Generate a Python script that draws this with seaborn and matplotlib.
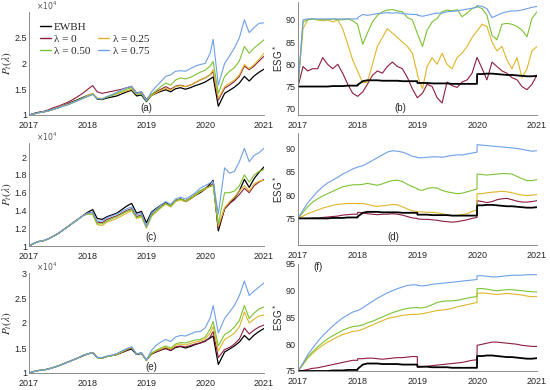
import pandas as pd
import matplotlib.pyplot as plt
from matplotlib.lines import Line2D
import seaborn as sns

sns.set_theme(style='white')
plt.rcParams['font.family'] = ['Liberation Sans', 'DejaVu Sans']

# 날짜 축 (가격: 월초 + 2020 폭락 구간, ESG: 월초 + 연말)
dates_p = pd.to_datetime([f'{y}-{m:02d}-01' for y in (2017, 2018, 2019) for m in range(1, 13)]
                         + ['2020-01-01', '2020-02-01', '2020-02-20', '2020-03-23']
                         + [f'2020-{m:02d}-01' for m in range(5, 13)] + ['2021-01-01'])
dates_e = pd.to_datetime([d for y in (2017, 2018, 2019)
                          for d in [f'{y}-{m:02d}-01' for m in range(1, 13)] + [f'{y}-12-31']]
                         + [f'2020-{m:02d}-01' for m in range(1, 13)] + ['2021-01-01'])

labels = ['EWBH', 'λ = 0', 'λ = 0.25', 'λ = 0.50', 'λ = 0.75']
colors = ['black', '#8C1D3C', '#E0B52A', '#7DC234', '#6E9FE8']
years = [2017, 2018, 2019, 2020, 2021]

# 포트폴리오 가치 (x10^4)
price_ewbh = [1.00, 1.03, 1.05, 1.06, 1.08, 1.11, 1.14, 1.18, 1.22, 1.26, 1.30, 1.34,
              1.38, 1.41, 1.31, 1.30, 1.33, 1.35, 1.37, 1.41, 1.45, 1.48, 1.37, 1.39,
              1.26, 1.38, 1.42, 1.46, 1.49, 1.45, 1.51, 1.53, 1.50, 1.53, 1.57, 1.60,
              1.64, 1.70, 1.74, 1.17, 1.42, 1.48, 1.54, 1.62, 1.75, 1.66, 1.76, 1.83,
              1.89]

price_a = {
    'λ = 0': [1.00, 1.02, 1.05, 1.07, 1.10, 1.14, 1.17, 1.21, 1.25, 1.30, 1.36, 1.42,
              1.50, 1.57, 1.45, 1.42, 1.44, 1.46, 1.48, 1.50, 1.53, 1.55, 1.43, 1.45,
              1.30, 1.40, 1.45, 1.50, 1.55, 1.50, 1.56, 1.58, 1.55, 1.58, 1.63, 1.68,
              1.72, 1.78, 1.84, 1.29, 1.52, 1.58, 1.65, 1.75, 1.95, 1.88, 1.95, 2.05,
              2.14],
    'λ = 0.25': [1.00, 1.02, 1.04, 1.06, 1.08, 1.11, 1.14, 1.18, 1.21, 1.25, 1.29, 1.33,
                 1.38, 1.42, 1.33, 1.32, 1.35, 1.38, 1.41, 1.44, 1.47, 1.50, 1.40, 1.42,
                 1.28, 1.38, 1.43, 1.48, 1.52, 1.48, 1.55, 1.57, 1.55, 1.58, 1.63, 1.68,
                 1.72, 1.78, 1.88, 1.32, 1.55, 1.62, 1.68, 1.78, 1.98, 1.90, 1.98, 2.08,
                 2.20],
    'λ = 0.50': [1.00, 1.02, 1.04, 1.06, 1.08, 1.11, 1.14, 1.17, 1.20, 1.24, 1.28, 1.32,
                 1.36, 1.40, 1.32, 1.31, 1.35, 1.38, 1.42, 1.46, 1.50, 1.53, 1.40, 1.42,
                 1.27, 1.40, 1.47, 1.55, 1.62, 1.58, 1.68, 1.72, 1.70, 1.73, 1.78, 1.83,
                 1.87, 1.95, 2.04, 1.42, 1.75, 1.85, 1.92, 2.05, 2.33, 2.20, 2.30, 2.38,
                 2.46],
    'λ = 0.75': [1.00, 1.02, 1.04, 1.06, 1.08, 1.11, 1.14, 1.17, 1.20, 1.24, 1.28, 1.32,
                 1.36, 1.40, 1.32, 1.31, 1.36, 1.40, 1.44, 1.49, 1.53, 1.56, 1.42, 1.45,
                 1.28, 1.45, 1.55, 1.65, 1.75, 1.78, 1.85, 1.86, 1.85, 1.90, 1.95, 1.98,
                 2.00, 2.20, 2.47, 1.58, 2.00, 2.15, 2.30, 2.50, 2.85, 2.60, 2.70, 2.78,
                 2.79],
}

price_c = {
    'λ = 0': [1.00, 1.03, 1.05, 1.06, 1.08, 1.11, 1.14, 1.18, 1.22, 1.26, 1.30, 1.34,
              1.37, 1.38, 1.27, 1.26, 1.30, 1.32, 1.34, 1.37, 1.40, 1.42, 1.33, 1.35,
              1.22, 1.35, 1.39, 1.44, 1.48, 1.45, 1.51, 1.53, 1.51, 1.54, 1.58, 1.62,
              1.65, 1.68, 1.70, 1.20, 1.42, 1.48, 1.52, 1.58, 1.65, 1.60, 1.68, 1.72,
              1.75],
    'λ = 0.25': [1.00, 1.03, 1.05, 1.06, 1.08, 1.11, 1.14, 1.18, 1.22, 1.26, 1.30, 1.34,
                 1.36, 1.36, 1.24, 1.23, 1.27, 1.29, 1.31, 1.34, 1.37, 1.40, 1.31, 1.33,
                 1.20, 1.33, 1.38, 1.43, 1.47, 1.44, 1.50, 1.52, 1.50, 1.53, 1.57, 1.61,
                 1.64, 1.67, 1.69, 1.22, 1.43, 1.50, 1.55, 1.62, 1.68, 1.62, 1.70, 1.73,
                 1.74],
    'λ = 0.50': [1.00, 1.03, 1.05, 1.06, 1.08, 1.11, 1.14, 1.18, 1.22, 1.26, 1.30, 1.34,
                 1.36, 1.36, 1.25, 1.25, 1.28, 1.31, 1.33, 1.36, 1.39, 1.41, 1.32, 1.34,
                 1.21, 1.34, 1.39, 1.44, 1.48, 1.45, 1.51, 1.53, 1.51, 1.54, 1.58, 1.62,
                 1.65, 1.67, 1.68, 1.25, 1.60, 1.60, 1.62, 1.68, 1.80, 1.72, 1.80, 1.84,
                 1.86],
    'λ = 0.75': [1.00, 1.03, 1.05, 1.06, 1.08, 1.11, 1.14, 1.18, 1.22, 1.26, 1.30, 1.34,
                 1.37, 1.38, 1.28, 1.28, 1.32, 1.34, 1.36, 1.39, 1.42, 1.44, 1.35, 1.37,
                 1.22, 1.37, 1.41, 1.46, 1.50, 1.47, 1.53, 1.55, 1.53, 1.56, 1.60, 1.65,
                 1.68, 1.71, 1.73, 1.36, 1.88, 1.82, 1.84, 1.95, 2.10, 1.95, 2.02, 2.05,
                 2.10],
}

price_e = {
    'λ = 0': [1.00, 1.03, 1.05, 1.06, 1.08, 1.11, 1.14, 1.18, 1.22, 1.26, 1.30, 1.35,
              1.38, 1.41, 1.31, 1.30, 1.33, 1.35, 1.37, 1.41, 1.46, 1.50, 1.38, 1.40,
              1.25, 1.38, 1.42, 1.46, 1.50, 1.45, 1.52, 1.54, 1.52, 1.55, 1.58, 1.60,
              1.63, 1.72, 1.83, 1.31, 1.47, 1.51, 1.58, 1.68, 1.90, 1.78, 1.86, 1.92,
              1.96],
    'λ = 0.25': [1.00, 1.03, 1.05, 1.06, 1.08, 1.11, 1.14, 1.18, 1.22, 1.26, 1.30, 1.35,
                 1.38, 1.41, 1.31, 1.30, 1.33, 1.35, 1.37, 1.42, 1.47, 1.51, 1.38, 1.40,
                 1.25, 1.39, 1.44, 1.48, 1.52, 1.48, 1.55, 1.58, 1.56, 1.59, 1.62, 1.64,
                 1.68, 1.80, 1.93, 1.44, 1.67, 1.73, 1.80, 1.92, 2.22, 2.00, 2.08, 2.14,
                 2.16],
    'λ = 0.50': [1.00, 1.03, 1.05, 1.06, 1.08, 1.11, 1.14, 1.18, 1.22, 1.26, 1.30, 1.35,
                 1.38, 1.41, 1.30, 1.30, 1.33, 1.35, 1.38, 1.43, 1.48, 1.52, 1.38, 1.40,
                 1.25, 1.40, 1.45, 1.50, 1.54, 1.50, 1.58, 1.61, 1.60, 1.63, 1.66, 1.67,
                 1.72, 1.88, 2.03, 1.54, 1.77, 1.83, 1.92, 2.05, 2.35, 2.09, 2.20, 2.28,
                 2.32],
    'λ = 0.75': [1.00, 1.03, 1.05, 1.06, 1.08, 1.11, 1.14, 1.18, 1.22, 1.26, 1.30, 1.35,
                 1.38, 1.41, 1.31, 1.31, 1.34, 1.36, 1.39, 1.44, 1.49, 1.52, 1.38, 1.41,
                 1.26, 1.45, 1.55, 1.62, 1.67, 1.63, 1.72, 1.75, 1.74, 1.78, 1.82, 1.83,
                 1.90, 2.10, 2.35, 1.80, 2.09, 2.22, 2.35, 2.55, 2.84, 2.55, 2.64, 2.72,
                 2.80],
}

# ESG* 점수
esg_ewbh = [75.0, 75.0, 75.0, 75.0, 75.0, 75.0, 75.0, 75.1, 75.1, 75.1, 75.2, 75.2, 75.2,
            75.4, 76.2, 76.4, 76.4, 76.4, 76.3, 76.3, 76.3, 76.3, 76.2, 76.2, 76.2, 76.2,
            75.8, 75.8, 75.8, 75.7, 75.7, 75.7, 75.7, 75.6, 75.6, 75.6, 75.6, 75.6, 75.6,
            77.8, 77.8, 77.9, 77.9, 77.8, 77.7, 77.6, 77.6, 77.5, 77.4, 77.3, 77.3,
            77.4]

esg_b = {
    'λ = 0': [75.0, 79.5, 78.5, 79.0, 79.0, 81.5, 80.0, 79.0, 80.0, 78.0, 75.5, 73.5, 72.8,
              72.8, 73.8, 75.5, 77.5, 78.5, 78.0, 79.5, 80.5, 79.5, 79.0, 77.0, 74.5, 72.5,
              72.5, 73.5, 75.5, 75.0, 72.5, 71.3, 76.0, 75.2, 74.8, 76.0, 76.5, 78.0, 81.5,
              81.5, 79.0, 76.5, 80.5, 79.5, 78.5, 78.0, 77.0, 76.5, 75.0, 74.3, 75.5,
              77.6],
    'λ = 0.25': [75.0, 88.0, 90.0, 90.2, 90.0, 89.8, 90.0, 89.5, 90.0, 88.0, 84.5, 81.0, 78.5,
                 78.4, 75.8, 76.0, 80.0, 84.0, 86.0, 88.0, 87.0, 86.0, 85.0, 84.0, 82.5, 78.0,
                 77.5, 74.5, 79.5, 81.5, 80.0, 82.5, 80.0, 79.0, 81.5, 82.5, 84.0, 86.0, 87.5,
                 87.5, 89.0, 88.5, 85.0, 83.0, 84.0, 81.0, 79.0, 81.5, 77.0, 79.0, 83.0,
                 84.0],
    'λ = 0.50': [75.0, 89.5, 90.0, 90.2, 90.0, 90.0, 90.0, 90.2, 90.0, 90.0, 90.2, 89.8, 89.0,
                 88.8, 84.5, 87.0, 89.5, 91.0, 91.8, 92.2, 92.3, 92.0, 91.8, 90.5, 90.0, 87.0,
                 86.9, 84.0, 87.7, 89.5, 90.3, 91.8, 92.2, 92.0, 92.3, 90.7, 91.5, 92.5, 93.0,
                 93.0, 92.5, 91.0, 86.5, 85.5, 89.0, 89.2, 89.0, 88.5, 87.7, 86.2, 90.3,
                 91.8],
    'λ = 0.75': [75.0, 90.0, 90.2, 90.2, 90.2, 90.2, 90.2, 90.2, 90.2, 90.2, 90.2, 90.2, 90.2,
                 90.5, 91.2, 91.0, 91.2, 91.4, 91.5, 91.6, 91.5, 91.6, 91.4, 91.3, 91.2, 91.2,
                 91.0, 90.8, 91.0, 91.3, 91.5, 91.5, 91.8, 91.9, 92.0, 92.2, 92.4, 92.6, 92.8,
                 93.2, 93.0, 92.5, 90.5, 91.0, 91.5, 91.8, 92.0, 92.0, 92.2, 92.5, 92.8,
                 93.0],
}

esg_d = {
    'λ = 0': [75.0, 75.0, 75.0, 75.1, 75.1, 75.2, 75.3, 75.4, 75.5, 75.7, 75.8, 75.9, 75.9,
              76.3, 76.2, 76.0, 75.9, 75.8, 75.9, 75.9, 76.0, 75.9, 75.7, 75.4, 75.1, 75.0,
              74.9, 74.8, 74.8, 74.7, 74.6, 74.4, 74.3, 74.2, 74.3, 74.5, 74.7, 75.0, 75.2,
              78.8, 78.6, 78.4, 78.6, 79.0, 79.2, 79.3, 79.0, 78.7, 78.5, 78.5, 78.6,
              78.8],
    'λ = 0.25': [75.0, 75.5, 76.0, 76.4, 76.8, 77.2, 77.5, 77.8, 78.0, 78.1, 78.2, 78.2, 78.2,
                 78.2, 78.2, 78.0, 77.7, 77.6, 77.7, 77.8, 78.0, 77.9, 77.5, 77.0, 76.6, 76.5,
                 76.4, 76.4, 76.3, 76.3, 76.2, 76.0, 75.8, 75.6, 75.6, 75.8, 76.0, 76.5, 76.8,
                 80.3, 80.3, 80.5, 80.6, 80.7, 80.8, 80.7, 80.5, 80.2, 80.0, 79.9, 80.0,
                 80.1],
    'λ = 0.50': [75.0, 76.3, 77.5, 78.5, 79.2, 79.8, 80.3, 80.8, 81.3, 81.8, 82.0, 82.2, 82.2,
                 82.2, 82.3, 82.5, 82.3, 82.1, 82.4, 82.8, 83.1, 83.2, 82.9, 82.3, 81.8, 81.4,
                 81.2, 81.0, 81.4, 81.6, 81.5, 81.0, 80.7, 80.5, 80.3, 80.4, 80.7, 81.0, 81.3,
                 84.5, 84.4, 84.3, 84.4, 84.5, 84.6, 84.6, 84.5, 84.0, 83.5, 83.1, 83.1,
                 83.3],
    'λ = 0.75': [75.0, 76.8, 78.3, 79.6, 80.8, 81.8, 82.6, 83.2, 83.8, 84.5, 85.0, 85.6, 86.0,
                 86.0, 86.3, 86.8, 87.4, 88.0, 88.6, 89.2, 89.5, 89.4, 89.2, 88.8, 88.3, 88.1,
                 88.0, 88.0, 88.1, 88.2, 88.2, 88.1, 88.3, 88.5, 88.6, 88.6, 88.8, 89.0, 89.2,
                 90.8, 90.7, 90.6, 90.5, 90.4, 90.3, 90.2, 90.1, 90.0, 89.8, 89.6, 89.4,
                 89.5],
}

esg_f = {
    'λ = 0': [75.0, 75.1, 75.3, 75.5, 75.6, 75.8, 76.0, 76.2, 76.4, 76.6, 76.8, 77.0, 77.0,
              77.3, 77.3, 77.4, 77.4, 77.3, 77.2, 77.3, 77.4, 77.5, 77.5, 77.6, 77.7, 77.7,
              75.7, 75.8, 75.9, 76.0, 76.1, 76.2, 76.3, 76.4, 76.5, 76.6, 76.8, 77.0, 77.1,
              79.8, 80.0, 80.2, 80.4, 80.4, 80.3, 80.2, 80.1, 80.0, 79.8, 79.7, 79.6,
              79.6],
    'λ = 0.25': [75.0, 76.2, 77.4, 78.3, 79.1, 79.8, 80.4, 80.9, 81.4, 81.8, 82.1, 82.4, 82.5,
                 82.5, 82.8, 83.2, 83.6, 84.0, 84.4, 84.8, 85.0, 85.2, 85.4, 85.5, 85.6, 85.6,
                 85.6, 85.7, 85.9, 86.1, 86.3, 86.4, 86.5, 86.7, 87.0, 87.2, 87.4, 87.6, 87.8,
                 89.5, 89.6, 89.5, 89.4, 89.3, 89.4, 89.5, 89.4, 89.3, 89.2, 89.0, 88.9,
                 88.9],
    'λ = 0.50': [75.0, 76.3, 77.6, 78.6, 79.5, 80.3, 81.0, 81.6, 82.1, 82.6, 83.0, 83.3, 83.4,
                 83.4, 83.6, 84.0, 84.3, 84.7, 85.1, 85.5, 85.9, 86.2, 86.5, 86.7, 86.8, 86.9,
                 86.8, 86.8, 87.0, 87.4, 87.8, 88.0, 88.1, 88.1, 88.2, 88.4, 88.6, 88.8, 88.9,
                 90.4, 90.4, 90.3, 90.1, 90.0, 90.1, 90.2, 90.2, 90.1, 90.0, 89.9, 89.8,
                 89.8],
    'λ = 0.75': [75.0, 76.5, 78.0, 79.3, 80.5, 81.6, 82.5, 83.4, 84.2, 84.9, 85.5, 86.0, 86.3,
                 86.3, 86.8, 87.4, 88.0, 88.6, 89.1, 89.6, 90.0, 90.4, 90.7, 91.0, 91.1, 91.1,
                 91.0, 90.9, 91.0, 91.2, 91.3, 91.4, 91.5, 91.6, 91.7, 91.8, 91.9, 92.0, 92.1,
                 92.8, 92.8, 92.7, 92.6, 92.6, 92.7, 92.8, 92.9, 92.9, 92.9, 93.0, 93.0,
                 93.0],
}

fig = plt.figure(figsize=(5.5, 3.9), dpi=100)
x_left = 29


def add_ax(x0, x1, y0, y1):
    # 픽셀 좌표로 축 배치
    return fig.add_axes([x0 / 550, 1 - y1 / 390, (x1 - x0) / 550, (y1 - y0) / 390])


def draw(ax, dates, series, ewbh, ylim, yticks, ytl, tag, tag_xy, price):
    if price:
        # 가격 그림에서는 EWBH를 먼저 그림
        sns.lineplot(x=dates, y=ewbh, ax=ax, color='black', lw=0.9)
    for lab, col in zip(labels[1:], colors[1:]):
        sns.lineplot(x=dates, y=series[lab], ax=ax, color=col, lw=0.8)
    if not price:
        sns.lineplot(x=dates, y=ewbh, ax=ax, color='black', lw=1.3)
    ax.set_xlim(pd.Timestamp('2017-01-01'), pd.Timestamp('2021-01-01'))
    ax.set_ylim(*ylim)
    ax.set_xticks([pd.Timestamp(f'{y}-01-01') for y in years])
    ax.set_xticklabels([str(y) for y in years])
    ax.set_yticks(yticks)
    ax.set_yticklabels(ytl)
    ax.set_xlabel('')
    for s in ['top', 'right']:
        ax.spines[s].set_visible(False)
    for s in ['left', 'bottom']:
        ax.spines[s].set_color('#7a7a7a')
        ax.spines[s].set_linewidth(0.6)
    ax.tick_params(direction='in', length=2.5, width=0.6, colors='#7a7a7a',
                   labelcolor='#262626', labelsize=6.5)
    ax.tick_params(axis='y', pad=1.5)
    ax.tick_params(axis='x', pad=4.5)
    ax.text(tag_xy[0], tag_xy[1], tag, transform=ax.transAxes, fontsize=7,
            ha='center', va='center', color='#262626')
    if price:
        ax.set_ylabel(r'$P_t(\lambda)$', fontsize=8, math_fontfamily='stix',
                      color='#262626')
        ax.yaxis.set_label_coords(-(x_left - 14) / (264 - x_left), 0.5)
        ax.text(0.03, 1.0, r'$\times10^4$', transform=ax.transAxes, fontsize=5.5,
                ha='left', va='bottom', color='#555555')
    else:
        ax.set_ylabel(r'ESG$^*$', fontsize=7, color='#262626')
        ax.yaxis.set_label_coords(-0.055, 0.5)


ax_a = add_ax(x_left, 264, 12, 115)
draw(ax_a, dates_p, price_a, price_ewbh, (1, 3.0), [1, 1.5, 2, 2.5], ['1', '1.5', '2', '2.5'],
     '(a)', (0.5, 0.07), True)
ax_b = add_ax(298, 537, 2, 115)
draw(ax_b, dates_e, esg_b, esg_ewbh, (68.6, 94), [70, 75, 80, 85, 90], ['70', '75', '80', '85', '90'],
     '(b)', (0.427, 0.062), False)
ax_c = add_ax(x_left, 264, 143, 246)
draw(ax_c, dates_p, price_c, price_ewbh, (1, 2.16), [1, 1.2, 1.4, 1.6, 1.8, 2],
     ['1', '1.2', '1.4', '1.6', '1.8', '2'], '(c)', (0.52, 0.087), True)
ax_d = add_ax(298, 537, 133, 245)
draw(ax_d, dates_e, esg_d, esg_ewbh, (69.3, 93.3), [75, 80, 85, 90], ['75', '80', '85', '90'],
     '(d)', (0.397, 0.071), False)
ax_e = add_ax(x_left, 264, 273, 373)
draw(ax_e, dates_p, price_e, price_ewbh, (1, 3), [1, 1.5, 2, 2.5, 3], ['1', '1.5', '2', '2.5', '3'],
     '(e)', (0.52, 0.058), True)
ax_f = add_ax(298, 537, 264, 371)
draw(ax_f, dates_e, esg_f, esg_ewbh, (75, 95), [75, 80, 85, 90, 95], ['75', '80', '85', '90', '95'],
     '(f)', (0.084, 0.975), False)

# 범례 (a)
h = [Line2D([], [], color=c, lw=1.0) for c in colors]
blank = Line2D([], [], color='none')
ax_a.legend([h[0], h[1], h[3], blank, h[2], h[4]],
            [labels[0], labels[1], labels[3], '', labels[2], labels[4]],
            ncol=2, loc='upper left', bbox_to_anchor=(0.045, 0.90), frameon=False,
            borderaxespad=0, borderpad=0, handlelength=1.0, handletextpad=0.3,
            columnspacing=0.7, labelspacing=0.2,
            prop={'family': 'Liberation Serif', 'size': 8})

plt.savefig('out.png', dpi=100)
plt.close()
